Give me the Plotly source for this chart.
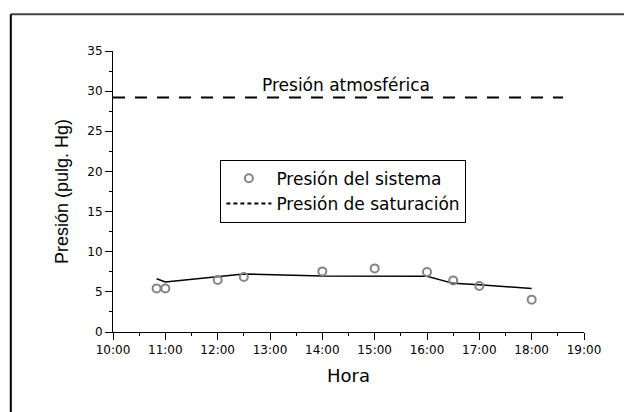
import plotly.graph_objects as go

# --- data ---
day = "2000-01-01 "
system_hours = ["10:50", "11:00", "12:00", "12:30", "14:00", "15:00", "16:00", "16:30", "17:00", "18:00"]
system_pressure = [5.43, 5.43, 6.47, 6.84, 7.55, 7.92, 7.46, 6.43, 5.72, 4.03]

saturation_hours = ["10:50", "11:00", "12:30", "14:00", "16:00", "16:30", "17:00", "18:00"]
saturation_pressure = [6.63, 6.22, 7.22, 6.97, 6.93, 6.06, 5.88, 5.42]

atm_hours = ["10:00", "18:36"]
atm_pressure = [29.2, 29.2]

x_range = ["10:00", "19:00"]
y_range = [0, 35]

sys_name = "Presión del sistema"
sat_name = "Presión de saturación"
atm_label = "Presión atmosférica"
x_title = "Hora"
y_title = "Presión (pulg. Hg)"

def ts(hs):
    return [day + h for h in hs]

TICK_FONT = dict(family="DejaVu Sans", size=12, color="black")

fig = go.Figure()

# atmospheric pressure dashed line
fig.add_trace(go.Scatter(
    x=ts(atm_hours), y=atm_pressure, mode="lines",
    line=dict(color="black", width=2, dash="12px,10px"),
    showlegend=False, hoverinfo="skip"))

# saturation pressure (solid line)
fig.add_trace(go.Scatter(
    x=ts(saturation_hours), y=saturation_pressure, mode="lines",
    line=dict(color="black", width=1.5),
    name=sat_name, legendgroup="sat", showlegend=False))

# system pressure (open circles)
fig.add_trace(go.Scatter(
    x=ts(system_hours), y=system_pressure, mode="markers",
    marker=dict(symbol="circle-open", size=8, color="#858585", line=dict(width=2, color="#858585")),
    name=sys_name))

# legend entry for saturation (dashed symbol, as in original)
fig.add_trace(go.Scatter(
    x=[None], y=[None], mode="lines",
    line=dict(color="black", width=2, dash="4px,3px"),
    name=sat_name, legendgroup="sat"))

fig.add_annotation(
    x=day + "14:27", y=atm_pressure[0], xref="x", yref="y",
    text=atm_label, showarrow=False, yanchor="bottom", yshift=1,
    font=dict(family="DejaVu Sans", size=17, color="black"))

# outer frame (top and left edges)
fig.add_shape(type="line", xref="paper", yref="paper", x0=-0.217, x1=1.12, y0=1.131, y1=1.131,
              line=dict(color="#444444", width=2))
fig.add_shape(type="line", xref="paper", yref="paper", x0=-0.217, x1=-0.217, y0=1.131, y1=-0.35,
              line=dict(color="black", width=2))

fig.update_layout(
    width=632, height=412, autosize=False,
    margin=dict(l=105, r=56, t=43, b=88),
    paper_bgcolor="white", plot_bgcolor="white",
    showlegend=True,
    legend=dict(
        x=0.228, y=0.613, xanchor="left", yanchor="top",
        bordercolor="black", borderwidth=1, bgcolor="white",
        font=dict(family="DejaVu Sans", size=17, color="black"),
        tracegroupgap=0, itemwidth=45,
    ),
    xaxis=dict(
        type="date", range=ts(x_range),
        dtick=3600000, tickformat="%H:%M",
        showgrid=False, zeroline=False,
        showline=True, linecolor="black", linewidth=1,
        ticks="outside", ticklen=7, tickcolor="black", tickwidth=1,
        minor=dict(dtick=1800000, ticks="outside", ticklen=3, tickcolor="black", showgrid=False),
        tickfont=TICK_FONT,
        title=dict(text=x_title, font=dict(family="DejaVu Sans", size=18, color="black"), standoff=12),
    ),
    yaxis=dict(
        range=y_range, dtick=5,
        showgrid=False, zeroline=False,
        showline=True, linecolor="black", linewidth=1,
        ticks="outside", ticklen=7, tickcolor="black", tickwidth=1,
        minor=dict(dtick=2.5, ticks="outside", ticklen=3, tickcolor="black", showgrid=False),
        tickfont=TICK_FONT,
        title=dict(text=y_title, font=dict(family="Liberation Sans", size=18, color="black"), standoff=14),
    ),
)

fig.write_html("out.html")
